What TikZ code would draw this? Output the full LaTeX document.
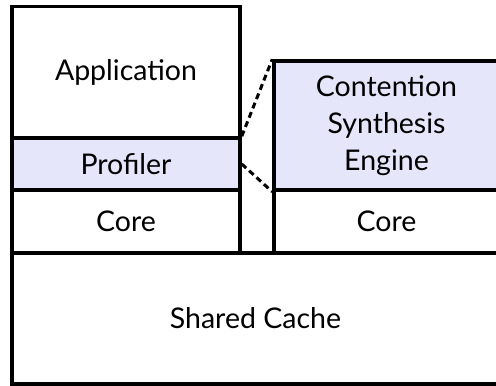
\documentclass[tikz,border=0pt]{standalone}
\usepackage{fontspec}
\setsansfont{Lato}
\usepackage{tikz}

\definecolor{synthfill}{RGB}{230,230,250}

\begin{document}
\begin{tikzpicture}[x=1pt, y=-1pt,
    layer/.style={draw, line width=3.5pt, inner sep=0pt, align=center,
      font=\sffamily\fontsize{28.5}{37}\selectfont},
    tinted/.style={layer, fill=synthfill}]
        \path[use as bounding box, clip] (0,0) rectangle (496,386);
        \node[layer, minimum width=228, minimum height=131.5] (app) at (126, 72.25) {Application};
        \node[tinted, minimum width=228, minimum height=52] (prof) at (126, 164) {Profiler};
        \node[layer, minimum width=228, minimum height=63] (core) at (126, 221.5) {Core};
        \node[tinted, minimum width=225, minimum height=129] (engine) at (386.5, 125.5) {Contention\\Synthesis\\Engine};
        \node[layer, minimum width=225, minimum height=63] (core2) at (386.5, 221.5) {Core};
        \node[layer, minimum width=487, minimum height=131] (cache) at (255.5, 318.5) {Shared Cache};
        \draw[dashed, line width=3pt, dash pattern=on 6pt off 4pt] (prof.north east) -- (engine.north west);
        \draw[dashed, line width=3pt, dash pattern=on 6pt off 4pt] (prof.east) -- (engine.south west);
      \end{tikzpicture}
\end{document}
